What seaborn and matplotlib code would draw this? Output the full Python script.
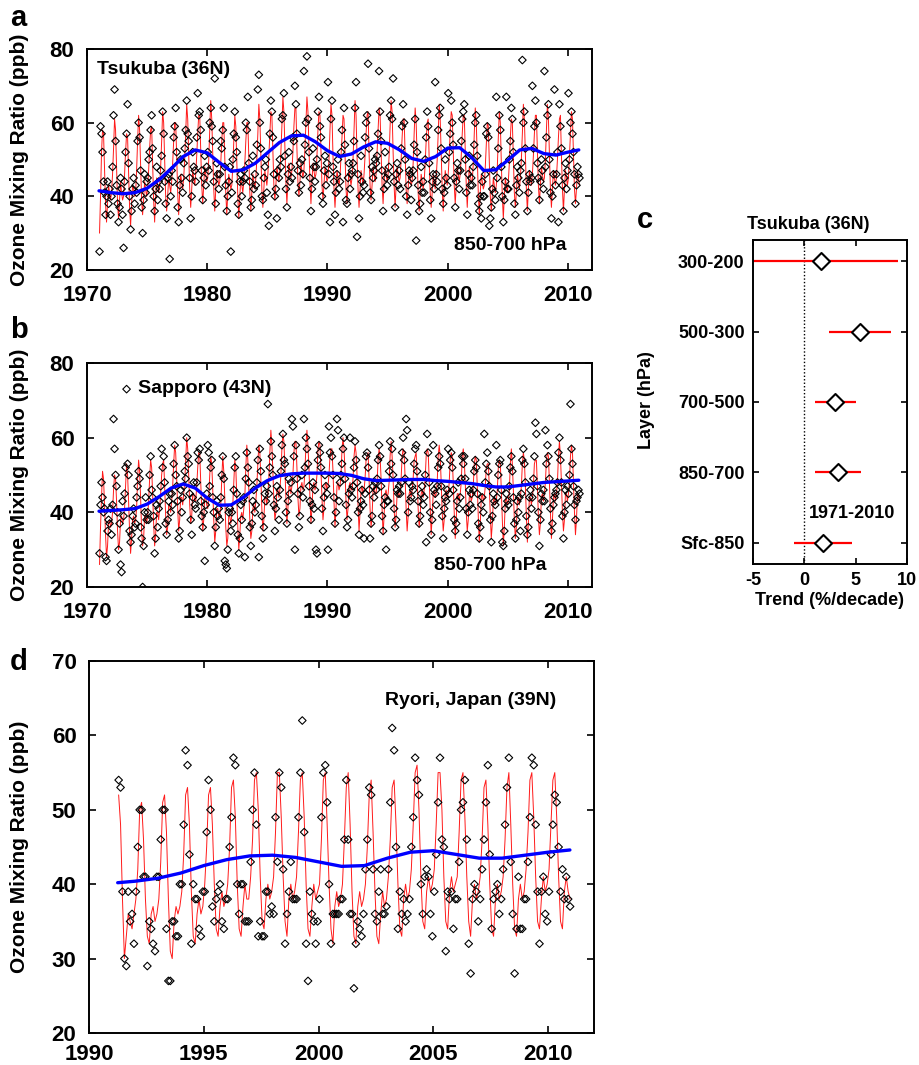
import numpy as np
import pandas as pd
import matplotlib
matplotlib.use("Agg")
import matplotlib.pyplot as plt
import seaborn as sns

# ---------------- Tsukuba (36N), 850-700 hPa, monthly means 1971-2010 (ppb) ----------------
tsukuba_first_year = 1971
tsukuba_obs = [
    [25, 59, 57, 52, 44, 41, 35, 40, 44, 38, 42, 35],
    [40, 48, 62, 69, 55, 43, 38, 33, 37, 45, 42, 35],
    [26, 44, 52, 57, 65, 49, 40, 31, 36, 42, 45, 38],
    [43, 41, 55, 60, 56, 47, 37, 30, 39, 46, 41, 44],
    [45, 50, 52, 58, 62, 53, 40, 36, 42, 48, 39, 44],
    [42, 47, 51, 63, 57, 44, 38, 34, 45, 46, 23, 40],
    [47, 44, 56, 59, 64, 52, 37, 33, 43, 50, 45, 41],
    [49, 53, 58, 66, 57, 55, 45, 34, 40, 52, 48, 47],
    [44, 56, 68, 62, 63, 58, 47, 39, 45, 51, 43, 48],
    [52, 47, 60, 64, 59, 55, 44, 72, 38, 49, 46, 42],
    [46, 55, 53, 58, 64, 48, 43, 36, 40, 44, 48, 25],
    [41, 50, 57, 63, 56, 52, 38, 35, 44, 46, 40, 44],
    [47, 45, 60, 58, 67, 49, 44, 37, 39, 51, 42, 46],
    [43, 54, 69, 73, 60, 53, 40, 39, 45, 48, 50, 41],
    [35, 32, 57, 66, 63, 56, 46, 40, 42, 34, 47, 45],
    [50, 48, 61, 62, 68, 51, 42, 37, 46, 52, 44, 48],
    [45, 56, 55, 70, 65, 57, 47, 41, 49, 43, 50, 46],
    [74, 54, 60, 78, 61, 52, 45, 36, 42, 53, 48, 44],
    [48, 50, 63, 67, 59, 56, 40, 38, 47, 51, 43, 49],
    [71, 46, 33, 61, 66, 48, 44, 35, 41, 46, 50, 42],
    [44, 52, 58, 33, 64, 54, 39, 38, 45, 49, 42, 46],
    [47, 49, 55, 64, 71, 29, 46, 34, 40, 51, 44, 41],
    [43, 56, 60, 62, 76, 53, 41, 39, 48, 45, 47, 50],
    [49, 51, 57, 74, 63, 55, 47, 36, 42, 52, 45, 43],
    [46, 48, 62, 66, 61, 72, 44, 37, 46, 49, 43, 47],
    [42, 53, 59, 65, 60, 50, 40, 35, 43, 47, 46, 39],
    [45, 47, 54, 61, 28, 52, 43, 36, 38, 48, 41, 44],
    [41, 50, 56, 63, 59, 49, 39, 34, 44, 46, 42, 71],
    [46, 44, 58, 62, 64, 53, 42, 38, 41, 50, 45, 43],
    [68, 52, 57, 66, 60, 54, 45, 37, 44, 49, 47, 42],
    [47, 55, 61, 63, 65, 50, 41, 35, 46, 51, 43, 45],
    [43, 48, 54, 60, 62, 51, 38, 36, 40, 34, 44, 40],
    [40, 46, 57, 59, 56, 32, 34, 37, 42, 47, 41, 39],
    [67, 45, 53, 62, 58, 48, 40, 33, 39, 44, 67, 42],
    [42, 50, 55, 64, 61, 52, 38, 35, 43, 48, 45, 41],
    [47, 49, 77, 60, 63, 53, 44, 36, 41, 46, 44, 45],
    [70, 53, 59, 66, 60, 49, 45, 39, 44, 50, 47, 42],
    [74, 48, 56, 62, 65, 50, 41, 34, 40, 46, 69, 43],
    [46, 52, 33, 65, 59, 53, 43, 36, 45, 49, 42, 47],
    [68, 50, 60, 63, 57, 52, 46, 38, 43, 48, 46, 45],
]
tsukuba_fit = [
    [30, 40, 52, 58, 57, 47, 38, 33, 38, 43, 41, 39],
    [41, 46, 53, 61, 58, 48, 38, 34, 39, 44, 41, 39],
    [40, 46, 52, 57, 56, 46, 37, 32, 38, 43, 42, 40],
    [41, 47, 55, 62, 58, 48, 39, 35, 39, 44, 42, 40],
    [42, 47, 53, 58, 59, 49, 39, 33, 40, 45, 43, 41],
    [43, 48, 55, 63, 60, 50, 40, 36, 40, 45, 43, 41],
    [44, 49, 55, 60, 60, 51, 41, 35, 41, 46, 44, 42],
    [45, 50, 57, 65, 61, 51, 42, 37, 42, 47, 45, 43],
    [46, 51, 57, 62, 62, 52, 43, 38, 43, 48, 46, 44],
    [45, 50, 58, 66, 61, 51, 42, 36, 42, 47, 45, 43],
    [44, 49, 55, 60, 60, 50, 41, 35, 41, 46, 44, 42],
    [43, 48, 55, 62, 59, 49, 40, 34, 40, 45, 43, 41],
    [44, 49, 55, 60, 60, 50, 41, 36, 41, 46, 44, 42],
    [45, 50, 57, 65, 61, 51, 42, 37, 42, 47, 45, 43],
    [46, 51, 57, 63, 62, 52, 43, 39, 43, 48, 46, 44],
    [47, 52, 59, 67, 63, 53, 44, 38, 44, 49, 47, 45],
    [47, 52, 59, 64, 64, 53, 44, 40, 44, 49, 47, 45],
    [47, 53, 60, 67, 63, 53, 44, 38, 44, 49, 47, 45],
    [46, 51, 58, 63, 62, 52, 43, 39, 43, 48, 46, 44],
    [45, 50, 58, 65, 62, 51, 42, 37, 42, 47, 45, 43],
    [45, 51, 56, 62, 61, 51, 42, 38, 43, 47, 45, 43],
    [45, 50, 58, 66, 62, 51, 42, 37, 42, 47, 45, 43],
    [46, 51, 57, 62, 63, 52, 43, 39, 43, 48, 46, 44],
    [46, 52, 58, 64, 62, 52, 43, 38, 44, 48, 46, 44],
    [46, 51, 59, 66, 63, 52, 43, 37, 43, 48, 46, 44],
    [45, 50, 56, 61, 61, 51, 42, 38, 42, 47, 45, 43],
    [44, 49, 57, 64, 60, 50, 41, 36, 41, 46, 44, 42],
    [44, 49, 55, 60, 61, 50, 41, 37, 41, 46, 44, 42],
    [45, 50, 57, 65, 61, 51, 42, 36, 42, 47, 45, 43],
    [46, 51, 58, 63, 62, 52, 43, 38, 43, 48, 46, 44],
    [46, 51, 57, 62, 62, 52, 43, 37, 43, 48, 46, 44],
    [44, 49, 57, 64, 60, 50, 41, 35, 41, 46, 44, 42],
    [43, 48, 54, 60, 59, 49, 40, 36, 40, 45, 43, 41],
    [43, 48, 56, 63, 60, 49, 40, 34, 40, 45, 43, 41],
    [44, 49, 56, 61, 60, 50, 41, 37, 41, 46, 44, 42],
    [45, 50, 57, 65, 61, 51, 42, 36, 42, 47, 45, 43],
    [46, 51, 57, 62, 62, 52, 43, 38, 43, 48, 46, 44],
    [45, 50, 58, 65, 61, 51, 42, 37, 42, 47, 45, 43],
    [45, 50, 56, 61, 62, 51, 42, 36, 42, 47, 45, 43],
    [45, 51, 57, 63, 61, 51, 42, 38, 42, 47, 45, 43],
]
tsukuba_trend_t = [1971.0, 1972, 1973, 1974, 1975, 1976, 1977, 1978, 1979, 1980,
                   1981, 1982, 1983, 1984, 1985, 1986, 1987, 1988, 1989, 1990,
                   1991, 1992, 1993, 1994, 1995, 1996, 1997, 1998, 1999, 2000,
                   2001, 2002, 2003, 2004, 2005, 2006, 2007, 2008, 2009, 2010, 2010.9]
tsukuba_trend = [41.5, 41.0, 40.7, 41.0, 42.2, 44.5, 47.5, 50.8, 52.6, 51.8,
                 49.2, 46.8, 47.2, 49.0, 51.8, 54.6, 56.4, 56.6, 54.8, 52.4,
                 50.8, 51.5, 53.4, 54.8, 54.4, 52.6, 50.3, 49.5, 50.8, 53.1,
                 53.2, 50.5, 47.0, 47.2, 49.8, 52.6, 53.0, 51.6, 51.2, 52.0, 52.6]

# ---------------- Sapporo (43N), 850-700 hPa, monthly means 1971-2010 (ppb) ----------------
sapporo_first_year = 1971
sapporo_obs = [
    [29, 42, 48, 44, 40, 41, 28, 27, 35, 38, 37, 41],
    [34, 42, 65, 57, 50, 47, 40, 30, 37, 26, 24, 43],
    [39, 45, 52, 73, 53, 50, 35, 32, 34, 39, 41, 36],
    [37, 44, 47, 51, 49, 36, 33, 20, 31, 40, 44, 38],
    [40, 38, 50, 55, 46, 44, 39, 29, 33, 42, 36, 41],
    [43, 47, 57, 52, 55, 48, 37, 34, 38, 43, 45, 40],
    [45, 42, 53, 58, 50, 47, 43, 33, 35, 46, 40, 44],
    [47, 51, 49, 60, 55, 53, 45, 38, 34, 44, 48, 42],
    [41, 48, 56, 54, 57, 43, 39, 36, 40, 27, 42, 45],
    [58, 56, 47, 52, 54, 44, 40, 31, 36, 43, 39, 41],
    [38, 44, 50, 55, 49, 27, 26, 25, 30, 40, 41, 35],
    [40, 37, 46, 52, 55, 45, 34, 29, 33, 42, 38, 43],
    [44, 28, 49, 56, 52, 48, 36, 31, 37, 43, 46, 40],
    [42, 48, 54, 28, 57, 51, 39, 33, 36, 45, 43, 47],
    [69, 45, 52, 59, 55, 50, 42, 35, 41, 47, 44, 38],
    [46, 51, 58, 61, 54, 53, 40, 37, 43, 49, 45, 48],
    [65, 63, 55, 30, 58, 49, 45, 36, 39, 46, 50, 44],
    [65, 52, 60, 57, 53, 47, 43, 38, 42, 48, 41, 46],
    [30, 29, 54, 58, 56, 52, 41, 35, 44, 50, 47, 45],
    [30, 63, 56, 60, 55, 50, 44, 37, 40, 65, 62, 43],
    [48, 50, 53, 57, 60, 49, 42, 36, 38, 45, 60, 46],
    [44, 47, 52, 59, 54, 48, 40, 34, 41, 43, 46, 42],
    [33, 45, 55, 56, 52, 46, 33, 37, 39, 47, 44, 48],
    [46, 49, 54, 58, 55, 47, 39, 35, 42, 44, 30, 43],
    [43, 51, 59, 53, 57, 50, 41, 36, 38, 46, 45, 47],
    [45, 48, 56, 60, 54, 49, 65, 62, 40, 48, 43, 44],
    [47, 46, 53, 57, 58, 51, 43, 37, 39, 45, 47, 42],
    [44, 50, 32, 61, 56, 48, 40, 34, 38, 58, 46, 45],
    [42, 47, 52, 55, 53, 47, 39, 33, 41, 44, 43, 46],
    [57, 45, 54, 56, 52, 46, 38, 35, 37, 43, 48, 41],
    [44, 49, 55, 53, 55, 49, 41, 34, 40, 46, 42, 45],
    [41, 46, 51, 54, 52, 45, 37, 33, 36, 42, 44, 40],
    [61, 48, 53, 56, 51, 47, 38, 32, 39, 45, 43, 42],
    [58, 44, 50, 53, 54, 46, 32, 31, 35, 41, 45, 43],
    [42, 47, 52, 55, 51, 44, 37, 33, 38, 43, 40, 44],
    [35, 45, 54, 57, 53, 48, 39, 34, 36, 44, 46, 41],
    [44, 49, 55, 64, 61, 47, 40, 31, 38, 45, 43, 46],
    [43, 62, 53, 58, 55, 49, 41, 35, 37, 42, 44, 45],
    [46, 48, 56, 60, 54, 48, 39, 33, 40, 46, 42, 47],
    [45, 50, 69, 57, 53, 47, 42, 38, 43, 44, 46, 45],
]
sapporo_fit = [
    [26, 36, 44, 51, 49, 42, 34, 28, 31, 37, 38, 36],
    [37, 40, 46, 50, 49, 43, 35, 30, 32, 38, 39, 37],
    [38, 41, 47, 53, 50, 43, 35, 29, 33, 38, 39, 37],
    [38, 41, 49, 54, 51, 44, 35, 31, 33, 39, 39, 37],
    [39, 43, 49, 54, 52, 45, 37, 31, 34, 40, 40, 38],
    [41, 45, 50, 53, 54, 47, 39, 34, 36, 42, 42, 40],
    [43, 47, 53, 58, 56, 49, 41, 35, 38, 44, 44, 42],
    [45, 48, 54, 60, 57, 50, 42, 37, 39, 45, 45, 43],
    [43, 47, 52, 56, 56, 48, 41, 35, 38, 44, 44, 42],
    [41, 44, 50, 55, 53, 46, 38, 32, 35, 41, 41, 39],
    [39, 42, 49, 55, 51, 44, 36, 31, 33, 39, 39, 37],
    [39, 42, 48, 54, 52, 44, 36, 30, 34, 39, 40, 38],
    [41, 44, 52, 58, 54, 46, 38, 33, 35, 41, 42, 40],
    [43, 47, 53, 58, 56, 49, 41, 35, 38, 44, 44, 42],
    [45, 49, 56, 62, 58, 51, 43, 38, 40, 46, 46, 44],
    [46, 50, 57, 61, 59, 52, 44, 37, 41, 47, 47, 45],
    [47, 50, 56, 59, 59, 52, 44, 39, 41, 47, 48, 46],
    [47, 51, 58, 62, 58, 52, 44, 37, 41, 47, 48, 46],
    [47, 50, 57, 59, 58, 51, 44, 38, 41, 47, 48, 46],
    [47, 50, 55, 57, 57, 51, 43, 36, 41, 47, 48, 46],
    [47, 50, 57, 60, 57, 51, 43, 38, 41, 47, 48, 46],
    [46, 49, 55, 58, 56, 50, 42, 35, 40, 46, 47, 45],
    [46, 49, 54, 55, 56, 49, 41, 36, 39, 46, 47, 45],
    [45, 48, 54, 57, 55, 49, 41, 34, 39, 45, 46, 44],
    [45, 48, 55, 59, 55, 49, 41, 36, 39, 45, 46, 44],
    [45, 49, 55, 57, 56, 49, 41, 35, 39, 45, 46, 44],
    [46, 49, 54, 55, 56, 49, 41, 36, 39, 45, 46, 44],
    [46, 49, 55, 57, 56, 49, 41, 34, 39, 45, 46, 44],
    [45, 48, 55, 58, 55, 48, 40, 35, 38, 45, 46, 44],
    [45, 48, 54, 56, 55, 48, 40, 33, 38, 45, 45, 43],
    [45, 48, 55, 57, 54, 48, 40, 35, 38, 44, 45, 43],
    [44, 47, 53, 55, 54, 47, 39, 32, 37, 44, 45, 43],
    [44, 47, 52, 53, 53, 47, 39, 33, 37, 43, 44, 42],
    [43, 46, 52, 54, 53, 46, 38, 31, 36, 43, 44, 42],
    [43, 46, 53, 57, 53, 46, 38, 33, 36, 43, 44, 42],
    [44, 47, 53, 56, 54, 47, 39, 32, 37, 44, 44, 42],
    [44, 47, 53, 54, 54, 47, 39, 34, 37, 44, 45, 43],
    [45, 48, 54, 56, 55, 48, 40, 33, 38, 44, 45, 43],
    [45, 48, 55, 59, 55, 48, 40, 35, 38, 45, 45, 43],
    [45, 48, 55, 58, 56, 48, 40, 34, 38, 45, 45, 43],
]
sapporo_trend_t = [1971.0, 1972, 1973, 1974, 1975, 1976, 1977, 1978, 1979, 1980,
                   1981, 1982, 1983, 1984, 1985, 1986, 1987, 1988, 1989, 1990,
                   1991, 1992, 1993, 1994, 1995, 1996, 1997, 1998, 1999, 2000,
                   2001, 2002, 2003, 2004, 2005, 2006, 2007, 2008, 2009, 2010, 2010.9]
sapporo_trend = [40.3, 40.5, 40.7, 41.0, 42.2, 44.2, 46.5, 47.6, 46.5, 43.8,
                 41.9, 42.0, 44.0, 46.5, 48.5, 49.8, 50.3, 50.5, 50.5, 50.5,
                 50.4, 49.9, 49.0, 48.5, 48.6, 48.7, 48.8, 48.8, 48.5, 48.3,
                 48.0, 47.7, 47.2, 46.8, 46.8, 47.2, 47.6, 48.0, 48.2, 48.4, 48.6]

# ---------------- Ryori (39N), surface, monthly means Apr 1991 - Dec 2010 (ppb) ----------------
ryori_first_year = 1991
ryori_first_month = 4
ryori_obs = [
    [54, 53, 39, 30, 29, 39, 35, 36, 32],
    [39, 45, 50, 50, 41, 41, 29, 35, 34, 32, 31, 41],
    [41, 46, 50, 50, 34, 27, 27, 35, 35, 33, 33, 40],
    [40, 48, 58, 56, 44, 32, 40, 38, 38, 34, 33, 39],
    [39, 47, 54, 50, 37, 35, 38, 39, 40, 35, 34, 38],
    [38, 45, 49, 57, 56, 40, 36, 40, 40, 35, 35, 35],
    [43, 50, 55, 48, 33, 35, 33, 33, 39, 39, 36, 37],
    [36, 49, 43, 55, 53, 42, 32, 36, 39, 43, 38, 38],
    [38, 49, 55, 62, 47, 32, 27, 39, 36, 35, 32, 35],
    [38, 49, 55, 56, 51, 40, 32, 36, 36, 36, 36, 38],
    [38, 46, 54, 46, 36, 36, 26, 32, 35, 34, 33, 36],
    [42, 46, 53, 52, 42, 36, 35, 39, 42, 36, 36, 37],
    [42, 51, 61, 58, 45, 34, 39, 36, 38, 35, 36, 38],
    [45, 49, 57, 54, 52, 40, 36, 41, 42, 41, 36, 33],
    [39, 44, 51, 57, 46, 45, 31, 39, 38, 39, 34, 38],
    [38, 43, 50, 51, 54, 46, 32, 28, 38, 40, 39, 35],
    [38, 42, 46, 51, 56, 44, 34, 38, 39, 40, 36, 38],
    [42, 48, 53, 57, 43, 36, 28, 34, 41, 34, 34, 38],
    [38, 43, 49, 57, 56, 48, 39, 32, 39, 41, 36, 35],
    [39, 44, 48, 52, 51, 45, 39, 42, 38, 41, 38, 37],
]
ryori_fit = [
    [52, 48, 38, 30, 33, 36, 35, 34, 36],
    [38, 42, 50, 51, 46, 38, 33, 32, 36, 37, 35, 36],
    [38, 43, 51, 52, 47, 38, 31, 30, 35, 37, 36, 37],
    [39, 44, 52, 53, 48, 39, 33, 32, 36, 38, 36, 37],
    [40, 45, 52, 53, 48, 40, 34, 33, 37, 39, 37, 38],
    [40, 45, 53, 54, 49, 40, 34, 33, 37, 40, 38, 38],
    [41, 46, 54, 55, 50, 41, 35, 34, 38, 40, 38, 39],
    [41, 47, 55, 55, 49, 41, 35, 33, 38, 40, 38, 39],
    [41, 47, 54, 55, 49, 40, 34, 33, 37, 40, 38, 39],
    [40, 46, 54, 55, 48, 40, 34, 32, 37, 39, 37, 38],
    [40, 46, 53, 55, 48, 39, 33, 32, 37, 39, 37, 38],
    [40, 45, 52, 54, 47, 39, 33, 32, 36, 39, 37, 38],
    [41, 46, 53, 54, 48, 40, 34, 33, 38, 40, 38, 39],
    [42, 48, 55, 56, 50, 41, 35, 34, 39, 41, 39, 40],
    [42, 48, 55, 55, 50, 41, 35, 34, 39, 41, 39, 40],
    [41, 47, 54, 55, 49, 41, 35, 33, 38, 40, 38, 39],
    [41, 46, 53, 54, 48, 40, 34, 33, 38, 40, 38, 39],
    [41, 46, 53, 55, 48, 40, 34, 33, 38, 40, 38, 39],
    [42, 47, 54, 55, 49, 41, 35, 34, 38, 41, 39, 40],
    [42, 48, 54, 55, 49, 41, 35, 34, 39, 41, 39, 38],
]
ryori_trend_t = [1991.25, 1992, 1993, 1994, 1995, 1996, 1997, 1998, 1999, 2000,
                 2001, 2002, 2003, 2004, 2005, 2006, 2007, 2008, 2009, 2010, 2010.95]
ryori_trend = [40.2, 40.4, 40.8, 41.5, 42.5, 43.3, 43.8, 43.9, 43.6, 43.0,
               42.4, 42.5, 43.5, 44.3, 44.5, 44.0, 43.5, 43.5, 43.9, 44.3, 44.6]

# ---------------- Tsukuba layer trends 1971-2010 (%/decade) ----------------
layers = ["300-200", "500-300", "700-500", "850-700", "Sfc-850"]
layer_trend = [1.6, 5.4, 3.0, 3.3, 1.8]
layer_low = [-5.9, 2.4, 1.0, 1.0, -1.0]
layer_high = [9.1, 8.4, 5.0, 5.5, 4.6]


def monthly_frame(first_year, rows, first_month=1):
    """Flatten yearly rows of monthly values into a (time, value) table."""
    t, v = [], []
    year, month = first_year, first_month
    for row in rows:
        for val in row:
            t.append(year + (month - 0.5) / 12.0)
            v.append(val)
            month += 1
            if month > 12:
                month = 1
                year += 1
    return pd.DataFrame({"time": t, "ppb": v})


sns.set_theme(style="ticks")
plt.rcParams["font.family"] = ["Liberation Sans", "DejaVu Sans"]
plt.rcParams["font.weight"] = "bold"
plt.rcParams["axes.labelweight"] = "bold"
plt.rcParams["axes.linewidth"] = 1.4
plt.rcParams["axes.unicode_minus"] = False
for key in ("text.color", "axes.labelcolor", "axes.edgecolor",
            "xtick.color", "ytick.color"):
    plt.rcParams[key] = "black"

W, H = 920, 1065
fig = plt.figure(figsize=(W / 100, H / 100), dpi=100)


def px_axes(x0, y0, x1, y1):
    return fig.add_axes([x0 / W, 1 - y1 / H, (x1 - x0) / W, (y1 - y0) / H])


def series_panel(ax, obs, fit, trend_t, trend_v):
    sns.lineplot(data=fit, x="time", y="ppb", ax=ax, color="#ff1a1a",
                 linewidth=0.7, estimator=None, sort=False)
    sns.scatterplot(data=obs, x="time", y="ppb", ax=ax, marker="D", s=15,
                    facecolor="none", edgecolor="black", linewidth=0.8, zorder=3)
    sns.lineplot(x=trend_t, y=trend_v, ax=ax, color="#0000ff", linewidth=2.4,
                 estimator=None, zorder=4)
    ax.set_xlabel("")
    ax.set_ylabel("")
    ax.tick_params(direction="in", top=True, right=True, length=5, width=1.2,
                   labelsize=16)
    ax.tick_params(axis="x", pad=11)
    ax.tick_params(axis="y", pad=9)
    for lab in ax.get_xticklabels() + ax.get_yticklabels():
        lab.set_fontweight("bold")


# ---- panel a ----
ax_a = px_axes(87, 49, 592, 270)
series_panel(ax_a, monthly_frame(tsukuba_first_year, tsukuba_obs),
             monthly_frame(tsukuba_first_year, tsukuba_fit),
             tsukuba_trend_t, tsukuba_trend)
ax_a.set_xlim(1970, 2012)
ax_a.set_ylim(20, 80)
ax_a.set_xticks([1970, 1980, 1990, 2000, 2010])
ax_a.set_yticks([20, 40, 60, 80])
ax_a.text(0.02, 0.905, "Tsukuba (36N)", transform=ax_a.transAxes, fontsize=14,
          fontweight="bold", ha="left", va="center")
ax_a.text(0.838, 0.109, "850-700 hPa", transform=ax_a.transAxes, fontsize=14,
          fontweight="bold", ha="center", va="center")

# ---- panel b ----
ax_b = px_axes(87, 363, 592, 587)
series_panel(ax_b, monthly_frame(sapporo_first_year, sapporo_obs),
             monthly_frame(sapporo_first_year, sapporo_fit),
             sapporo_trend_t, sapporo_trend)
ax_b.set_xlim(1970, 2012)
ax_b.set_ylim(20, 80)
ax_b.set_xticks([1970, 1980, 1990, 2000, 2010])
ax_b.set_yticks([20, 40, 60, 80])
ax_b.text(0.234, 0.888, "Sapporo (43N)", transform=ax_b.transAxes, fontsize=14,
          fontweight="bold", ha="center", va="center")
ax_b.text(0.798, 0.098, "850-700 hPa", transform=ax_b.transAxes, fontsize=14,
          fontweight="bold", ha="center", va="center")

# ---- panel d ----
ax_d = px_axes(89, 661, 594, 1033)
series_panel(ax_d, monthly_frame(ryori_first_year, ryori_obs, ryori_first_month),
             monthly_frame(ryori_first_year, ryori_fit, ryori_first_month),
             ryori_trend_t, ryori_trend)
ax_d.set_xlim(1990, 2012)
ax_d.set_ylim(20, 70)
ax_d.set_xticks([1990, 1995, 2000, 2005, 2010])
ax_d.set_yticks([20, 30, 40, 50, 60, 70])
ax_d.tick_params(axis="x", pad=8)
ax_d.text(0.756, 0.895, "Ryori, Japan (39N)", transform=ax_d.transAxes,
          fontsize=14, fontweight="bold", ha="center", va="center")

# ---- panel c ----
ax_c = px_axes(753, 240, 907, 564)
ypos = list(range(len(layers)))
ax_c.axvline(0, color="black", linestyle=(0, (1, 1.5)), linewidth=1.0, zorder=1)
ax_c.hlines(ypos, layer_low, layer_high, color="#ff0000", linewidth=1.6, zorder=2)
sns.scatterplot(x=layer_trend, y=ypos, ax=ax_c, marker="D", s=75,
                facecolor="white", edgecolor="black", linewidth=1.5, zorder=3)
ax_c.set_xlim(-5, 10)
ax_c.set_ylim(len(layers) - 0.7, -0.3)
ax_c.set_xticks([-5, 0, 5, 10])
ax_c.set_yticks(ypos)
ax_c.set_yticklabels(layers)
ax_c.tick_params(direction="in", top=True, right=True, length=4, width=1.2,
                 labelsize=13, pad=6)
for lab in ax_c.get_xticklabels() + ax_c.get_yticklabels():
    lab.set_fontweight("bold")
ax_c.set_xlabel("Trend (%/decade)", fontsize=13, fontweight="bold", labelpad=2)
ax_c.set_ylabel("")
ax_c.text(4.64, 3.58, "1971-2010", fontsize=13, fontweight="bold",
          ha="center", va="center")
fig.text(808 / W, 1 - 225 / H, "Tsukuba (36N)", fontsize=13, fontweight="bold",
         ha="center", va="center")
fig.text(647 / W, 1 - 400 / H, "Layer (hPa)", fontsize=13, fontweight="bold",
         ha="center", va="center", rotation=90)

# ---- shared labels ----
for yc in (160, 475, 847):
    fig.text(20 / W, 1 - yc / H, "Ozone Mixing Ratio (ppb)", fontsize=15,
             fontweight="bold", ha="center", va="center", rotation=90)

for letter, x, y in (("a", 10, 4), ("b", 10, 316), ("c", 637, 206), ("d", 10, 648)):
    fig.text(x / W, 1 - y / H, letter, fontsize=21, fontweight="bold",
             ha="left", va="top")

fig.savefig("out.png", dpi=100)
